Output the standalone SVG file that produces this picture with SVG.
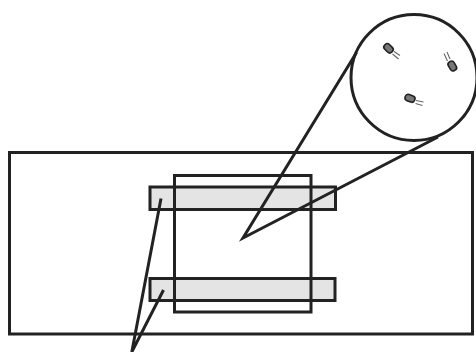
<svg xmlns="http://www.w3.org/2000/svg" width="476" height="352" viewBox="0 0 476 352">
<style>
.o{fill:none;stroke:#222;stroke-width:3}
.b{fill:#e4e4e4;stroke:#222;stroke-width:3}
.l{fill:none;stroke:#222;stroke-width:3}
.c{fill:#777;stroke:#222;stroke-width:1.6}
.d{fill:none;stroke:#666;stroke-width:1.1}
</style>
<rect width="476" height="352" fill="#fff"/>
<g id="outer"><rect class="o" x="9.500" y="152.500" width="463" height="181.500"/></g>
<g id="bar-top"><rect class="b" x="150" y="187" width="185.500" height="22.500"/></g>
<g id="bar-bottom"><rect class="b" x="150" y="278.500" width="185" height="22"/></g>
<g id="square"><rect class="o" x="174.500" y="175.500" width="136.500" height="136.500"/></g>
<g id="lens"><circle class="o" cx="414" cy="77.500" r="63"/>
<rect class="c" x="-5" y="-3.300" width="10" height="6.600" rx="3" transform="translate(388.500 48.300) rotate(45)"/>
<rect class="c" x="-5" y="-3.300" width="10" height="6.600" rx="3" transform="translate(452.300 66) rotate(60)"/>
<rect class="c" x="-5" y="-3.300" width="10" height="6.600" rx="3" transform="translate(410 98.300) rotate(20)"/>
<path class="d" d="M394 51.500L400 55.500M392.500 54L398.500 59M447.500 61L444 53.500M450 59L447 52M416 100.500L423.500 102M415.500 103.500L422.500 105.500"/></g>
<g id="connectors">
<path class="l" d="M356.500 52.500L243 238L438 137"/>
<path class="l" d="M161 198.500L131.800 352M163.500 290L131.800 352"/>
</g>
</svg>
